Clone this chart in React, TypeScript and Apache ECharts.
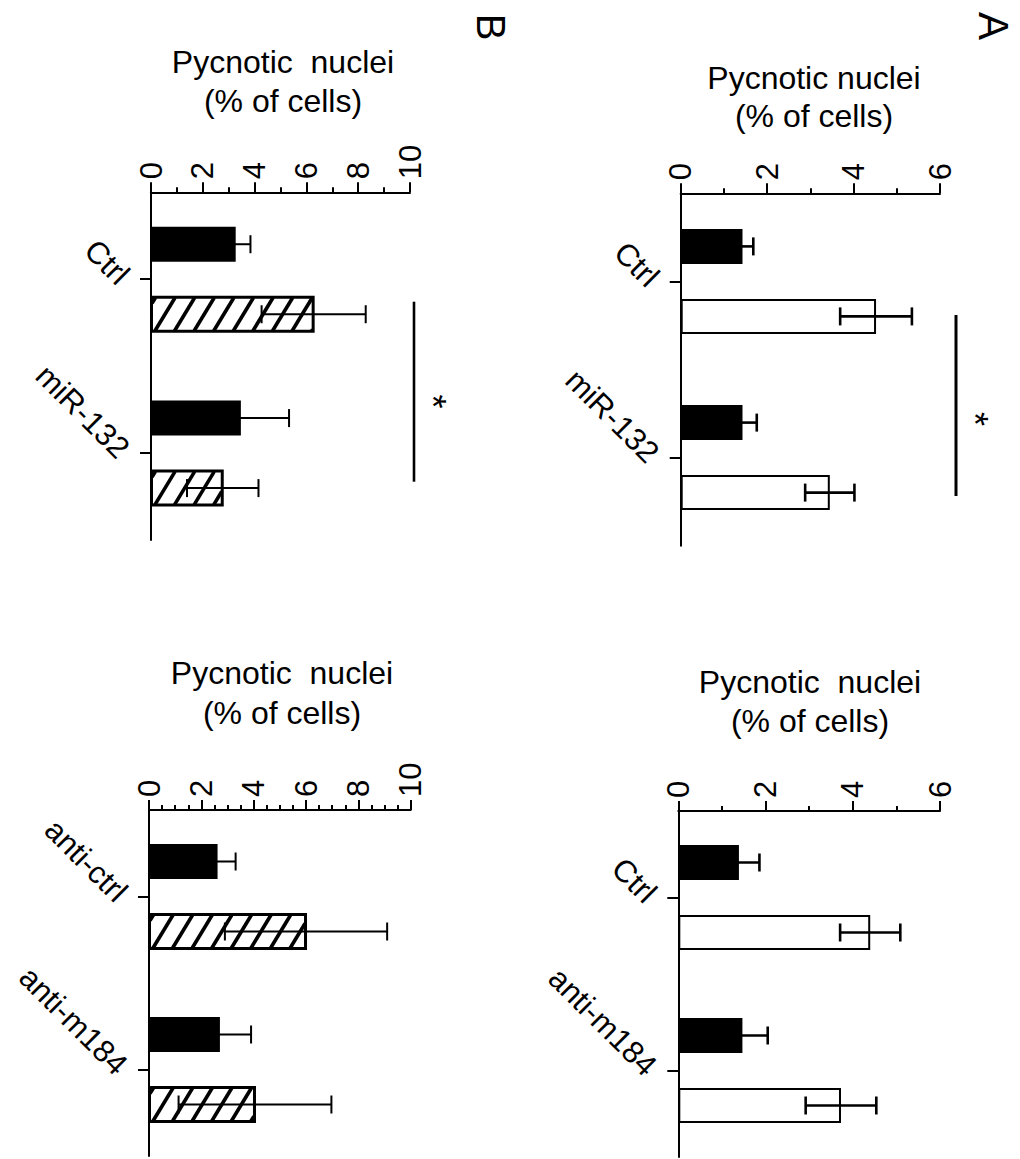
import React, { useEffect, useRef } from "react";
import * as echarts from "echarts";

const FONT = "'Liberation Sans', Arial, Helvetica, sans-serif";

// Panel A (top): miR-132 overexpression, open bars
const catsA1 = ["Ctrl", "miR-132"];
const blackA1 = [1.43, 1.43];
const blackA1Sem = [0.25, 0.33];
const openA1 = [4.52, 3.45];
const openA1Sem = [0.83, 0.57];

// Panel A (bottom): anti-miR-184, open bars
const catsA2 = ["Ctrl", "anti-m184"];
const blackA2 = [1.39, 1.47];
const blackA2Sem = [0.47, 0.58];
const openA2 = [4.4, 3.73];
const openA2Sem = [0.69, 0.81];

// Panel B (top): miR-132 overexpression, hatched bars
const catsB1 = ["Ctrl", "miR-132"];
const blackB1 = [3.27, 3.47];
const blackB1Sem = [0.57, 1.86];
const hatchB1 = [6.28, 2.77];
const hatchB1Sem = [2.01, 1.38];

// Panel B (bottom): anti-miR-184, hatched bars
const catsB2 = ["anti-ctrl", "anti-m184"];
const blackB2 = [2.62, 2.71];
const blackB2Sem = [0.69, 1.19];
const hatchB2 = [6.0, 4.05];
const hatchB2Sem = [3.1, 2.92];

// value-axis ranges and tick steps
const maxA = 6;
const maxB = 10;
const majorStep = 2;

const titleLine1 = "Pycnotic nuclei";
const titleLine1Wide = "Pycnotic  nuclei";
const titleLine2 = "(% of cells)";

const BAR_W = 35;
const HATCH_STEP = 19.6;
const HATCH_RUN = 20;
const HATCH_PHASE = 3;
const CAP = 9;

type Panel = {
  rect: { left: number; top: number; width: number; height: number };
  cats: string[];
  black: number[];
  blackSem: number[];
  second: number[];
  secondSem: number[];
  hatched: boolean;
  max: number;
  minorSplit: number;
  errW: number;
  title: { text: string; x: number; y1: number; y2: number };
};

const panels: Panel[] = [
  {
    rect: { left: 680.7, top: 193.3, width: 259.3, height: 352.4 },
    cats: catsA1, black: blackA1, blackSem: blackA1Sem, second: openA1, secondSem: openA1Sem,
    hatched: false, max: maxA, minorSplit: 2, errW: 2.6,
    title: { text: titleLine1, x: 814, y1: 78, y2: 116 },
  },
  {
    rect: { left: 151, top: 192.3, width: 259, height: 347.7 },
    cats: catsB1, black: blackB1, blackSem: blackB1Sem, second: hatchB1, secondSem: hatchB1Sem,
    hatched: true, max: maxB, minorSplit: 2, errW: 2,
    title: { text: titleLine1Wide, x: 283, y1: 62, y2: 101 },
  },
  {
    rect: { left: 678.3, top: 811, width: 261.7, height: 346 },
    cats: catsA2, black: blackA2, blackSem: blackA2Sem, second: openA2, secondSem: openA2Sem,
    hatched: false, max: maxA, minorSplit: 2, errW: 2.6,
    title: { text: titleLine1Wide, x: 810, y1: 682, y2: 721 },
  },
  {
    rect: { left: 149, top: 810, width: 261.7, height: 346 },
    cats: catsB2, black: blackB2, blackSem: blackB2Sem, second: hatchB2, secondSem: hatchB2Sem,
    hatched: true, max: maxB, minorSplit: 4, errW: 2,
    title: { text: titleLine1Wide, x: 282, y1: 673, y2: 713 },
  },
];

function hatchRender(params: any, api: any) {
  const v = api.value(0);
  const j = api.value(1);
  const a = api.coord([0, j]);
  const b = api.coord([v, j]);
  const cy = a[1] + BAR_W; // second bar of each pair sits one bar width below the band centre
  const half = BAR_W / 2;
  const xl = a[0] + 1;
  const xr = b[0] - 1;
  const yt = cy - half + 1;
  const yb = cy + half - 1;
  const h = yb - yt;
  const children: any[] = [];
  for (let c = xl + HATCH_PHASE - 3 * HATCH_STEP; c < xr; c += HATCH_STEP) {
    const t0 = Math.max(0, (xl - c) / HATCH_RUN);
    const t1 = Math.min(1, (xr - c) / HATCH_RUN);
    if (t1 <= t0) continue;
    children.push({
      type: "line",
      shape: { x1: c + HATCH_RUN * t0, y1: yb - h * t0, x2: c + HATCH_RUN * t1, y2: yb - h * t1 },
      style: { stroke: "#000", lineWidth: 3.6 },
    });
  }
  children.push({
    type: "rect",
    shape: { x: a[0], y: cy - half, width: b[0] - a[0], height: BAR_W },
    style: { fill: "none", stroke: "#000", lineWidth: 2 },
  });
  return { type: "group", children };
}

function makeErrorRender(width: number) {
  return (params: any, api: any) => {
    const v = api.value(0);
    const j = api.value(1);
    const s = api.value(2);
    const side = api.value(3);
    const lo = api.coord([v - s, j]);
    const hi = api.coord([v + s, j]);
    const y = lo[1] + side * BAR_W;
    const style = { stroke: "#000", lineWidth: width };
    return {
      type: "group",
      children: [
        { type: "line", shape: { x1: lo[0], y1: y, x2: hi[0], y2: y }, style },
        { type: "line", shape: { x1: lo[0], y1: y - CAP, x2: lo[0], y2: y + CAP }, style },
        { type: "line", shape: { x1: hi[0], y1: y - CAP, x2: hi[0], y2: y + CAP }, style },
      ],
    };
  };
}

function centeredText(text: string, x: number, y: number, size: number, rotation = 0) {
  return {
    type: "text",
    x,
    y,
    rotation,
    style: {
      text,
      fontSize: size,
      fontFamily: FONT,
      fill: "#000",
      textAlign: "center",
      textVerticalAlign: "middle",
    },
  };
}

function buildOption() {
  const grid: any[] = [];
  const xAxis: any[] = [];
  const yAxis: any[] = [];
  const series: any[] = [];
  const graphic: any[] = [];

  panels.forEach((p, i) => {
    grid.push({ ...p.rect, containLabel: false, outerBoundsMode: "none" });
    xAxis.push({
      gridIndex: i,
      type: "value",
      position: "top",
      min: 0,
      max: p.max,
      interval: majorStep,
      axisLine: { show: true, lineStyle: { color: "#000", width: 2 } },
      axisTick: { show: true, length: 10, lineStyle: { color: "#000", width: 2 } },
      minorTick: { show: true, splitNumber: p.minorSplit, length: 5, lineStyle: { color: "#000", width: 2 } },
      splitLine: { show: false },
      minorSplitLine: { show: false },
      axisLabel: { rotate: -90, fontSize: 31, fontFamily: FONT, color: "#000", margin: 13 },
    });
    yAxis.push({
      gridIndex: i,
      type: "category",
      data: p.cats,
      inverse: true,
      axisLine: { show: true, lineStyle: { color: "#000", width: 2 } },
      axisTick: { show: true, alignWithLabel: true, length: 11, lineStyle: { color: "#000", width: 2 } },
      axisLabel: { rotate: -45, interval: 0, fontSize: 31, fontFamily: FONT, color: "#000", margin: 27 },
      splitLine: { show: false },
    });
    series.push({
      type: "bar",
      xAxisIndex: i,
      yAxisIndex: i,
      data: p.black,
      barWidth: BAR_W,
      barGap: "100%",
      itemStyle: { color: "#000" },
      z: 2,
    });
    series.push({
      type: "bar",
      xAxisIndex: i,
      yAxisIndex: i,
      data: p.second,
      barWidth: BAR_W,
      barGap: "100%",
      itemStyle: { color: "#fff", borderColor: "#000", borderWidth: 2 },
      z: 2,
    });
    if (p.hatched) {
      series.push({
        type: "custom",
        xAxisIndex: i,
        yAxisIndex: i,
        data: p.second.map((v, j) => [v, j]),
        encode: { x: 0, y: 1 },
        renderItem: hatchRender,
        z: 3,
      });
    }
    const errData = [
      ...p.black.map((v, j) => [v, j, p.blackSem[j], -1]),
      ...p.second.map((v, j) => [v, j, p.secondSem[j], 1]),
    ];
    series.push({
      type: "custom",
      xAxisIndex: i,
      yAxisIndex: i,
      data: errData,
      encode: { x: 0, y: 1 },
      renderItem: makeErrorRender(p.errW),
      z: 4,
    });

    graphic.push(centeredText(p.title.text, p.title.x, p.title.y1, 32));
    graphic.push(centeredText(titleLine2, p.title.x, p.title.y2, 32));
  });

  // panel letters, set sideways like the rest of the figure
  graphic.push(centeredText("A", 993, 26, 42, -Math.PI / 2));
  graphic.push(centeredText("B", 491, 27, 40, -Math.PI / 2));

  // significance brackets
  graphic.push({
    type: "line", shape: { x1: 956, y1: 315, x2: 956, y2: 496 },
    style: { stroke: "#000", lineWidth: 3 },
  });
  graphic.push({
    type: "line", shape: { x1: 414, y1: 301.7, x2: 414, y2: 481.7 },
    style: { stroke: "#000", lineWidth: 2.6 },
  });
  graphic.push(centeredText("*", 974, 419, 36, -Math.PI / 2));
  graphic.push(centeredText("*", 432, 401.5, 36, -Math.PI / 2));

  return {
    animation: false,
    backgroundColor: "#fff",
    textStyle: { fontFamily: FONT },
    grid,
    xAxis,
    yAxis,
    series,
    graphic,
  };
}

export default function App() {
  const ref = useRef<HTMLDivElement>(null);
  useEffect(() => {
    if (!ref.current) return;
    const chart = echarts.init(ref.current, null, { renderer: "svg" });
    chart.setOption(buildOption() as any);
    return () => chart.dispose();
  }, []);
  return (
    <div
      ref={ref}
      style={{ position: "absolute", left: 0, top: 0, width: 1020, height: 1159, background: "#fff" }}
    />
  );
}
